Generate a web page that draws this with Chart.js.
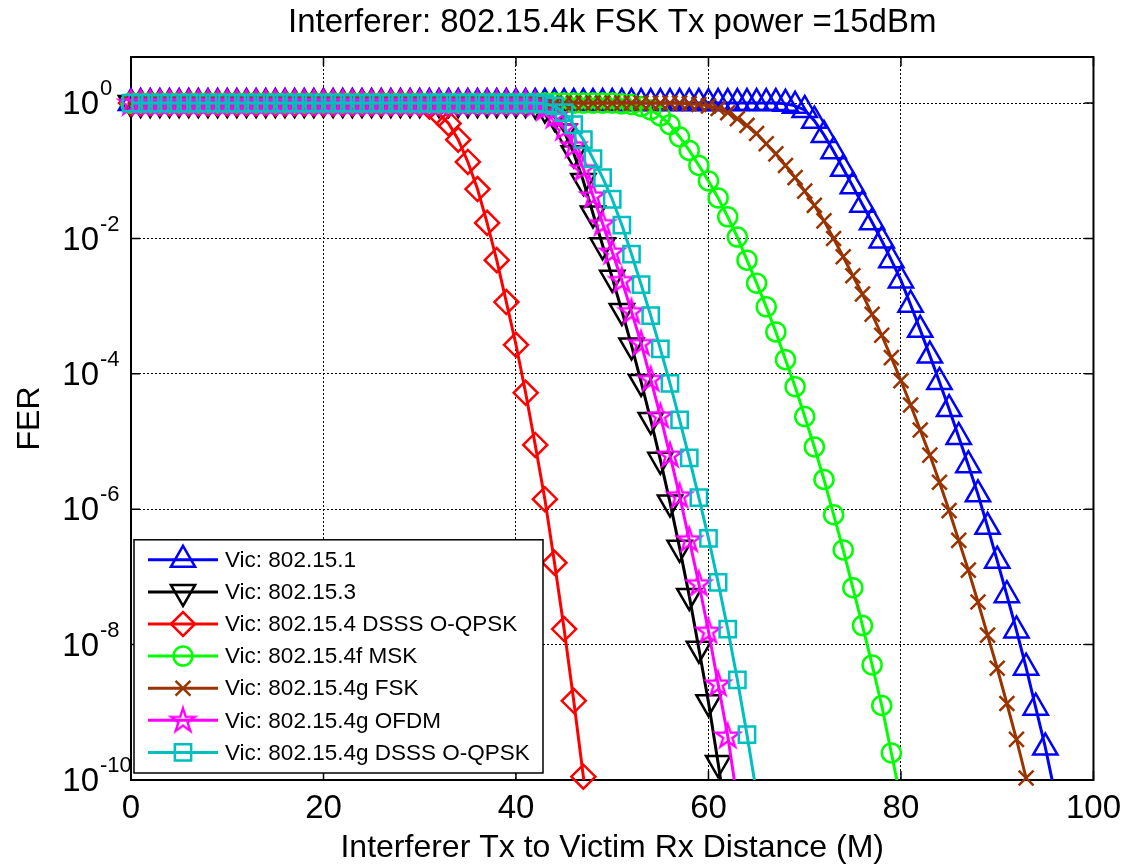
<!DOCTYPE html>
<html>
<head>
<meta charset="utf-8">
<title>FER vs distance</title>
<script src="https://cdn.jsdelivr.net/npm/chart.js@4.4.1/dist/chart.umd.min.js"></script>
<style>
  html, body { margin: 0; padding: 0; background: #fff; }
  #wrap { width: 1130px; height: 867px; }
</style>
</head>
<body>
<div id="wrap"><canvas id="ferChart" width="1130" height="867"></canvas></div>
<script>
// distance axis (M), one sample per metre
const distance = [
  0, 1, 2, 3, 4, 5, 6, 7, 8, 9, 10, 11, 12, 13, 14, 15, 16, 17, 18, 19,
  20, 21, 22, 23, 24, 25, 26, 27, 28, 29, 30, 31, 32, 33, 34, 35, 36, 37, 38, 39,
  40, 41, 42, 43, 44, 45, 46, 47, 48, 49, 50, 51, 52, 53, 54, 55, 56, 57, 58, 59,
  60, 61, 62, 63, 64, 65, 66, 67, 68, 69, 70, 71, 72, 73, 74, 75, 76, 77, 78, 79,
  80, 81, 82, 83, 84, 85, 86, 87, 88, 89, 90, 91, 92, 93, 94, 95, 96, 97, 98, 99, 100
];

// FER per victim, starting at distance 0
const ferBT = [
  1, 1, 1, 1, 1, 1, 1, 1, 1, 1,  1, 1, 1, 1, 1, 1, 1, 1, 1, 1,
  1, 1, 1, 1, 1, 1, 1, 1, 1, 1,  1, 1, 1, 1, 1, 1, 1, 1, 1, 1,
  1, 1, 1, 1, 1, 1, 1, 1, 1, 1,  1, 1, 1, 1, 1, 1, 1, 1, 1, 1,
  1, 1, 1, 1, 1, 1, 1, 1,
  0.977, 0.912, 0.794, 0.550, 0.339, 0.195, 0.107, 5.89e-2, 3.16e-2, 1.74e-2,
  9.33e-3, 4.79e-3, 2.40e-3, 1.05e-3, 4.47e-4, 1.86e-4, 7.59e-5, 3.02e-5, 1.17e-5, 4.47e-6,
  1.66e-6, 5.50e-7, 1.74e-7, 5.37e-8, 1.62e-8, 4.57e-9, 1.17e-9, 3.02e-10, 6.31e-11
];
const ferUWB = [
  1, 1, 1, 1, 1, 1, 1, 1, 1, 1,  1, 1, 1, 1, 1, 1, 1, 1, 1, 1,
  1, 1, 1, 1, 1, 1, 1, 1, 1, 1,  1, 1, 1, 1, 1, 1, 1, 1, 1, 1,
  1, 1,
  0.955, 0.832, 0.631, 0.380, 0.182, 7.08e-2, 2.34e-2, 7.94e-3, 2.63e-3, 8.51e-4,
  2.63e-4, 7.59e-5, 2.09e-5, 5.37e-6, 1.26e-6, 2.69e-7, 5.25e-8, 8.71e-9, 1.41e-9, 1.78e-10,
  2.0e-11
];
const ferOQPSK = [
  1, 1, 1, 1, 1, 1, 1, 1, 1, 1,  1, 1, 1, 1, 1, 1, 1, 1, 1, 1,
  1, 1, 1, 1, 1, 1, 1, 1, 1, 1,
  0.977, 0.891, 0.692, 0.501, 0.288, 0.135, 5.37e-2, 1.70e-2, 4.79e-3, 1.15e-3,
  2.69e-4, 5.25e-5, 8.91e-6, 1.41e-6, 1.62e-7, 1.70e-8, 1.48e-9, 1.12e-10, 7.9e-12
];
const ferMSK = [
  1, 1, 1, 1, 1, 1, 1, 1, 1, 1,  1, 1, 1, 1, 1, 1, 1, 1, 1, 1,
  1, 1, 1, 1, 1, 1, 1, 1, 1, 1,  1, 1, 1, 1, 1, 1, 1, 1, 1, 1,
  1, 1, 1, 1, 1, 1, 1, 1, 1, 1,  1,
  0.977, 0.955, 0.891, 0.794, 0.646, 0.479, 0.316, 0.200, 0.120, 7.08e-2,
  3.98e-2, 2.09e-2, 1.05e-2, 4.79e-3, 2.19e-3, 9.77e-4, 4.17e-4, 1.62e-4, 6.46e-5, 2.34e-5,
  8.32e-6, 2.75e-6, 8.32e-7, 2.51e-7, 6.92e-8, 1.91e-8, 5.01e-9, 1.26e-9, 2.51e-10, 5.01e-11
];
const ferFSK = [
  1, 1, 1, 1, 1, 1, 1, 1, 1, 1,  1, 1, 1, 1, 1, 1, 1, 1, 1, 1,
  1, 1, 1, 1, 1, 1, 1, 1, 1, 1,  1, 1, 1, 1, 1, 1, 1, 1, 1, 1,
  1, 1, 1, 1, 1, 1, 1, 1, 1, 1,  1, 1, 1, 1, 1, 1, 1, 1,
  0.977, 0.955, 0.912, 0.832, 0.724, 0.589, 0.468, 0.355, 0.251, 0.178,
  0.120, 7.94e-2, 5.01e-2, 3.09e-2, 1.82e-2, 1.0e-2, 5.37e-3, 2.82e-3, 1.51e-3, 7.59e-4,
  3.72e-4, 1.74e-4, 7.94e-5, 3.47e-5, 1.48e-5, 6.31e-6, 2.51e-6, 9.55e-7, 3.47e-7, 1.26e-7,
  4.27e-8, 1.38e-8, 4.47e-9, 1.35e-9, 3.98e-10, 1.07e-10, 2.82e-11
];
const ferOFDM = [
  1, 1, 1, 1, 1, 1, 1, 1, 1, 1,  1, 1, 1, 1, 1, 1, 1, 1, 1, 1,
  1, 1, 1, 1, 1, 1, 1, 1, 1, 1,  1, 1, 1, 1, 1, 1, 1, 1, 1, 1,
  1, 1,
  0.955, 0.832, 0.646, 0.427, 0.234, 0.107, 4.27e-2, 1.66e-2, 6.31e-3, 2.40e-3,
  8.32e-4, 2.82e-4, 8.32e-5, 2.40e-5, 6.31e-6, 1.58e-6, 3.55e-7, 7.94e-8, 1.58e-8, 2.63e-9,
  4.47e-10, 5.01e-11
];
const ferDSSS = [
  1, 1, 1, 1, 1, 1, 1, 1, 1, 1,  1, 1, 1, 1, 1, 1, 1, 1, 1, 1,
  1, 1, 1, 1, 1, 1, 1, 1, 1, 1,  1, 1, 1, 1, 1, 1, 1, 1, 1, 1,
  1, 1, 1,
  0.977, 0.912, 0.724, 0.479, 0.288, 0.151, 7.94e-2, 3.80e-2, 1.58e-2, 5.89e-3,
  2.09e-3, 7.24e-4, 2.34e-4, 7.24e-5, 2.09e-5, 5.75e-6, 1.48e-6, 3.72e-7, 8.32e-8, 1.70e-8,
  3.02e-9, 4.68e-10, 6.31e-11
];

const seriesNames = [
  'Vic: 802.15.1',
  'Vic: 802.15.3',
  'Vic: 802.15.4 DSSS O-QPSK',
  'Vic: 802.15.4f MSK',
  'Vic: 802.15.4g FSK',
  'Vic: 802.15.4g OFDM',
  'Vic: 802.15.4g DSSS O-QPSK'
];
const seriesValues = [ferBT, ferUWB, ferOQPSK, ferMSK, ferFSK, ferOFDM, ferDSSS];

const xTicks = [0, 20, 40, 60, 80, 100];
const yTickExponents = [0, -2, -4, -6, -8, -10];

const chartTitle = 'Interferer: 802.15.4k FSK Tx power =15dBm';
const xTitle = 'Interferer Tx to Victim Rx Distance (M)';
const yTitle = 'FER';

// ---- styles ----
const FONT = '"Liberation Sans", Arial, Helvetica, sans-serif';
const seriesColors = ['#0000ff', '#000000', '#ff0000', '#00ff00', '#993300', '#ff00ff', '#00bfbf'];

// MATLAB style pentagram, drawn once on a small canvas
function makePentagram(color) {
  const c = document.createElement('canvas');
  c.width = 32; c.height = 32;
  const g = c.getContext('2d');
  const R = 12.5, r = R * 0.382;
  g.beginPath();
  for (let k = 0; k < 10; k++) {
    const a = -Math.PI / 2 + k * Math.PI / 5;
    const rr = k % 2 === 0 ? R : r;
    const px = 16 + rr * Math.cos(a), py = 16.5 + rr * Math.sin(a);
    if (k === 0) g.moveTo(px, py); else g.lineTo(px, py);
  }
  g.closePath();
  g.strokeStyle = color;
  g.lineWidth = 2.4;
  g.stroke();
  return c;
}

const markerStyles = [
  { pointStyle: 'triangle', radius: 14, rotation: 0 },
  { pointStyle: 'triangle', radius: 14, rotation: 180 },
  { pointStyle: 'rectRot', radius: 12, rotation: 0 },
  { pointStyle: 'circle', radius: 9.5, rotation: 0 },
  { pointStyle: 'crossRot', radius: 10.5, rotation: 0 },
  { pointStyle: makePentagram('#ff00ff'), radius: 12, rotation: 0 },
  { pointStyle: 'rect', radius: 11.5, rotation: 0 }
];

const Y_MIN = 1e-10;
const Y_MAX = 4.8;

const datasets = [];
seriesValues.forEach((vals, i) => {
  const pts = vals.map((v, k) => ({ x: distance[k], y: v }));
  const m = markerStyles[i];
  // the line, clipped to the axes
  datasets.push({
    label: seriesNames[i],
    data: pts,
    showLine: true,
    borderColor: seriesColors[i],
    borderWidth: 3,
    pointRadius: 0,
    tension: 0,
    order: 40 - 2 * i
  });
  // the markers, not clipped (like MATLAB)
  datasets.push({
    label: seriesNames[i] + ' markers',
    data: pts,
    showLine: false,
    clip: false,
    borderColor: seriesColors[i],
    backgroundColor: 'rgba(0,0,0,0)',
    pointStyle: m.pointStyle,
    pointRotation: m.rotation,
    pointRadius: ctx => (ctx.raw && ctx.raw.y < Y_MIN ? 0 : m.radius),
    pointBorderWidth: 2.5,
    pointBackgroundColor: 'rgba(0,0,0,0)',
    order: 39 - 2 * i
  });
});

// axes frame and inward tick marks, drawn under the data
const framePlugin = {
  id: 'frame',
  beforeDatasetsDraw(chart) {
    const { ctx, chartArea: a, scales } = chart;
    ctx.save();
    ctx.strokeStyle = '#000';
    ctx.lineWidth = 1.5;
    const tl = 9;
    ctx.beginPath();
    xTicks.forEach(t => {
      const px = scales.x.getPixelForValue(t);
      ctx.moveTo(px, a.bottom); ctx.lineTo(px, a.bottom - tl);
      ctx.moveTo(px, a.top); ctx.lineTo(px, a.top + tl);
    });
    yTickExponents.forEach(e => {
      const py = scales.y.getPixelForValue(Math.pow(10, e));
      ctx.moveTo(a.left, py); ctx.lineTo(a.left + tl, py);
      ctx.moveTo(a.right, py); ctx.lineTo(a.right - tl, py);
    });
    ctx.stroke();
    ctx.lineWidth = 2;
    ctx.strokeRect(a.left, a.top, a.right - a.left, a.bottom - a.top);
    ctx.restore();
  }
};

// title centred over the axes, and 10^n labels on the log axis
const textPlugin = {
  id: 'axisText',
  afterDraw(chart) {
    const { ctx, chartArea: a, scales } = chart;
    ctx.save();
    ctx.fillStyle = '#000';
    ctx.textBaseline = 'middle';
    ctx.font = '33px ' + FONT;
    ctx.textAlign = 'center';
    ctx.fillText(chartTitle, (a.left + a.right) / 2, 23);
    yTickExponents.forEach(e => {
      const py = scales.y.getPixelForValue(Math.pow(10, e));
      ctx.font = '33px ' + FONT;
      ctx.textAlign = 'right';
      ctx.fillText('10', a.left - 32, py + 2);
      ctx.font = '22px ' + FONT;
      ctx.textAlign = 'left';
      ctx.fillText(String(e), a.left - 31, py - 14);
    });
    ctx.restore();
  }
};

// boxed legend in the lower left corner of the axes
const boxLegendPlugin = {
  id: 'boxLegend',
  afterDatasetsDraw(chart) {
    const { ctx, chartArea: a } = chart;
    const rowH = 32.1;
    const left = a.left + 3, bottom = a.bottom - 7;
    const width = 409;
    const top = bottom - (rowH * seriesNames.length + 8.5);
    ctx.save();
    ctx.fillStyle = '#fff';
    ctx.fillRect(left, top, width, bottom - top);
    ctx.strokeStyle = '#000';
    ctx.lineWidth = 1.5;
    ctx.strokeRect(left, top, width, bottom - top);
    seriesNames.forEach((name, i) => {
      const cy = top + 20 + i * rowH;
      ctx.strokeStyle = seriesColors[i];
      ctx.lineWidth = 3;
      ctx.beginPath();
      ctx.moveTo(left + 14, cy);
      ctx.lineTo(left + 84, cy);
      ctx.stroke();
      const m = markerStyles[i];
      ctx.lineWidth = 2.5;
      ctx.fillStyle = 'rgba(0,0,0,0)';
      Chart.helpers.drawPoint(ctx, {
        pointStyle: m.pointStyle, rotation: m.rotation, radius: m.radius, borderWidth: 2.5
      }, left + 49, cy);
      ctx.fillStyle = '#000';
      ctx.font = '22.5px ' + FONT;
      ctx.textAlign = 'left';
      ctx.textBaseline = 'middle';
      ctx.fillText(name, left + 91, cy + 1);
    });
    ctx.restore();
  }
};

const chart = new Chart(document.getElementById('ferChart').getContext('2d'), {
  type: 'scatter',
  data: { datasets: datasets },
  options: {
    responsive: false,
    animation: false,
    devicePixelRatio: 1,
    events: [],
    layout: { padding: { left: 0, right: 32, top: 57, bottom: 0 } },
    plugins: {
      legend: { display: false },
      tooltip: { enabled: false },
      title: { display: false }
    },
    scales: {
      x: {
        type: 'linear',
        min: 0,
        max: 100,
        afterBuildTicks: scale => { scale.ticks = xTicks.map(v => ({ value: v })); },
        afterFit: scale => { scale.height = 87; },
        ticks: { color: '#000', font: { family: FONT, size: 33 }, padding: 9, maxRotation: 0 },
        grid: { color: '#000', lineWidth: 1, drawTicks: false },
        border: { display: false, dash: [2, 2] },
        title: {
          display: true,
          text: xTitle,
          color: '#000',
          font: { family: FONT, size: 32 },
          padding: { top: 4.8, bottom: 0 }
        }
      },
      y: {
        type: 'logarithmic',
        min: Y_MIN,
        max: Y_MAX,
        afterBuildTicks: scale => { scale.ticks = yTickExponents.map(e => ({ value: Math.pow(10, e) })); },
        afterFit: scale => { scale.width = 131; },
        ticks: { callback: () => '', padding: 0 },
        grid: { color: '#000', lineWidth: 1, drawTicks: false },
        border: { display: false, dash: [2, 2] },
        title: {
          display: true,
          text: yTitle,
          color: '#000',
          font: { family: FONT, size: 32 },
          padding: { top: 11, bottom: 0 }
        }
      }
    }
  },
  plugins: [framePlugin, textPlugin, boxLegendPlugin]
});
</script>
</body>
</html>
